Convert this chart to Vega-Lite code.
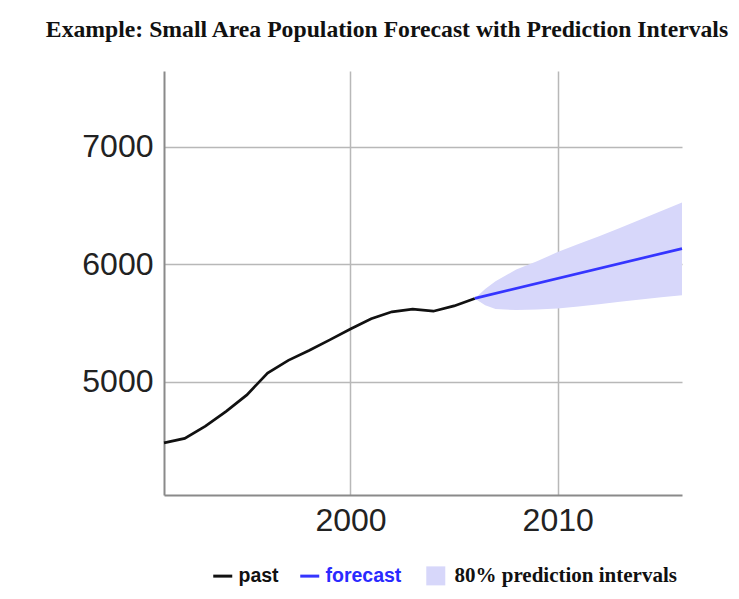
{
  "$schema": "https://vega.github.io/schema/vega-lite/v6.json",
  "width": 518,
  "height": 424,
  "autosize": {"type": "none"},
  "padding": {"left": 164, "top": 71, "right": 57, "bottom": 104},
  "background": "white",
  "title": {
    "text": "Example: Small Area Population Forecast with Prediction Intervals",
    "font": "Liberation Serif",
    "fontSize": 23.7,
    "fontWeight": "bold",
    "color": "#111111",
    "anchor": "middle",
    "dx": -36,
    "offset": 29
  },
  "config": {
    "view": {"stroke": null},
    "axis": {
      "labelFont": "Liberation Sans",
      "labelFontSize": 32,
      "labelColor": "#222222",
      "ticks": false,
      "domainColor": "#8a8a8a",
      "domainWidth": 2,
      "gridColor": "#b8b8b8",
      "gridWidth": 1.5,
      "title": null
    },
    "legend": {
      "orient": "none",
      "legendX": 49,
      "legendY": 495,
      "direction": "horizontal",
      "title": null,
      "padding": 0,
      "labelFont": "Liberation Sans",
      "labelFontWeight": "bold",
      "labelFontSize": 19.5,
      "labelLimit": 400,
      "labelOffset": 6,
      "columnPadding": 15,
      "symbolSize": 361,
      "symbolStrokeWidth": 3
    }
  },
  "datasets": {
    "lines": [
      {"year": 1991, "value": 4480, "series": "past"},
      {"year": 1992, "value": 4518, "series": "past"},
      {"year": 1993, "value": 4622, "series": "past"},
      {"year": 1994, "value": 4748, "series": "past"},
      {"year": 1995, "value": 4888, "series": "past"},
      {"year": 1996, "value": 5073, "series": "past"},
      {"year": 1997, "value": 5182, "series": "past"},
      {"year": 1998, "value": 5266, "series": "past"},
      {"year": 1999, "value": 5356, "series": "past"},
      {"year": 2000, "value": 5449, "series": "past"},
      {"year": 2001, "value": 5535, "series": "past"},
      {"year": 2002, "value": 5595, "series": "past"},
      {"year": 2003, "value": 5618, "series": "past"},
      {"year": 2004, "value": 5600, "series": "past"},
      {"year": 2005, "value": 5645, "series": "past"},
      {"year": 2006, "value": 5709, "series": "past"},
      {"year": 2006, "value": 5709, "series": "forecast"},
      {"year": 2016, "value": 6133, "series": "forecast"}
    ],
    "band": [
      {"year": 2006, "lo": 5709, "hi": 5709, "series": "80% prediction intervals"},
      {"year": 2006.5, "lo": 5650, "hi": 5790, "series": "80% prediction intervals"},
      {"year": 2007, "lo": 5618, "hi": 5855, "series": "80% prediction intervals"},
      {"year": 2008, "lo": 5610, "hi": 5955, "series": "80% prediction intervals"},
      {"year": 2009, "lo": 5614, "hi": 6025, "series": "80% prediction intervals"},
      {"year": 2010, "lo": 5624, "hi": 6103, "series": "80% prediction intervals"},
      {"year": 2011, "lo": 5640, "hi": 6172, "series": "80% prediction intervals"},
      {"year": 2012, "lo": 5660, "hi": 6237, "series": "80% prediction intervals"},
      {"year": 2013, "lo": 5680, "hi": 6308, "series": "80% prediction intervals"},
      {"year": 2014, "lo": 5700, "hi": 6380, "series": "80% prediction intervals"},
      {"year": 2015, "lo": 5718, "hi": 6452, "series": "80% prediction intervals"},
      {"year": 2016, "lo": 5736, "hi": 6524, "series": "80% prediction intervals"}
    ]
  },
  "layer": [
    {
      "data": {"name": "band"},
      "mark": {"type": "area", "opacity": 1},
      "encoding": {
        "x": {
          "field": "year", "type": "quantitative",
          "scale": {"domain": [1991, 2016], "nice": false, "zero": false},
          "axis": {"values": [2000, 2010], "format": "d", "labelPadding": 10}
        },
        "y": {
          "field": "lo", "type": "quantitative",
          "scale": {"domain": [4036, 7644], "nice": false, "zero": false},
          "axis": {"values": [5000, 6000, 7000], "format": "d", "labelPadding": 11}
        },
        "y2": {"field": "hi"},
        "color": {
          "field": "series", "type": "nominal",
          "scale": {
            "domain": ["past", "forecast", "80% prediction intervals"],
            "range": ["#111111", "#3535ff", "#d7d7fa"]
          },
          "legend": {
            "encode": {
              "symbols": {
                "update": {
                  "shape": {"signal": "datum.label === '80% prediction intervals' ? 'M -0.05 -1 L 1.95 -1 L 1.95 1 L -0.05 1 Z' : 'stroke'"},
                  "stroke": {"signal": "datum.label === 'forecast' ? '#3535ff' : datum.label === 'past' ? '#111111' : 'transparent'"},
                  "fill": {"signal": "datum.label === '80% prediction intervals' ? '#d7d7fa' : 'transparent'"},
                  "strokeWidth": {"signal": "datum.label === '80% prediction intervals' ? 0 : 3"},
                  "opacity": {"value": 1}
                }
              },
              "labels": {
                "update": {
                  "dx": {"signal": "datum.label === '80% prediction intervals' ? 12 : 0"},
                  "fill": {"signal": "datum.label === 'forecast' ? '#2a2aff' : '#111111'"},
                  "font": {"signal": "datum.label === '80% prediction intervals' ? 'Liberation Serif' : 'Liberation Sans'"},
                  "fontSize": {"signal": "datum.label === '80% prediction intervals' ? 21 : 19.5"}
                }
              }
            }
          }
        }
      }
    },
    {
      "data": {"name": "lines"},
      "mark": {"type": "line", "strokeWidth": 2.7},
      "encoding": {
        "x": {"field": "year", "type": "quantitative"},
        "y": {"field": "value", "type": "quantitative"},
        "color": {
          "field": "series", "type": "nominal",
          "legend": {
            "encode": {
              "symbols": {
                "update": {
                  "shape": {"signal": "datum.label === '80% prediction intervals' ? 'M -0.05 -1 L 1.95 -1 L 1.95 1 L -0.05 1 Z' : 'stroke'"},
                  "stroke": {"signal": "datum.label === 'forecast' ? '#3535ff' : datum.label === 'past' ? '#111111' : 'transparent'"},
                  "fill": {"signal": "datum.label === '80% prediction intervals' ? '#d7d7fa' : 'transparent'"},
                  "strokeWidth": {"signal": "datum.label === '80% prediction intervals' ? 0 : 3"},
                  "opacity": {"value": 1}
                }
              },
              "labels": {
                "update": {
                  "dx": {"signal": "datum.label === '80% prediction intervals' ? 12 : 0"},
                  "fill": {"signal": "datum.label === 'forecast' ? '#2a2aff' : '#111111'"},
                  "font": {"signal": "datum.label === '80% prediction intervals' ? 'Liberation Serif' : 'Liberation Sans'"},
                  "fontSize": {"signal": "datum.label === '80% prediction intervals' ? 21 : 19.5"}
                }
              }
            }
          }
        }
      }
    }
  ]
}
